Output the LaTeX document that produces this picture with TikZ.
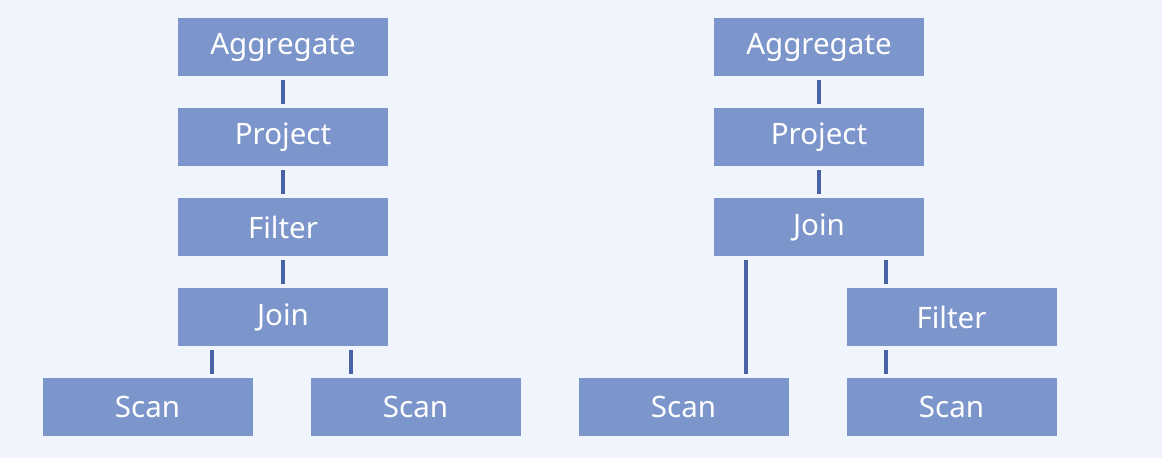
\documentclass[tikz,border=0pt]{standalone}
\usepackage{fontspec}
\setmainfont{Noto Sans}
\definecolor{opfill}{RGB}{124,149,203}
\definecolor{linkcol}{RGB}{72,98,168}
\definecolor{bgcol}{RGB}{240,244,252}
\tikzstyle{every node}=[fill=opfill,text=white,minimum width=210pt,minimum height=58pt,inner sep=0pt,font=\fontsize{29.5}{34}\selectfont]
\tikzstyle{link}=[draw=linkcol,line width=4pt,shorten >=4pt,shorten <=4pt]

\begin{document}
\begin{tikzpicture}[x=1pt,y=-1pt]
	  \fill[bgcol] (0,0) rectangle (1162,458);
	  \useasboundingbox (0,0) rectangle (1162,458);
	  % plan before pushdown
	  \node (aggL) at (283,47) {Aggregate};
	  \node (projL) at (283,137) {Project};
	  \node (filtL) at (283,227) {Filter};
	  \node (joinL) at (283,317) {Join};
	  \node (scanLa) at (147.5,407) {Scan};
	  \node (scanLb) at (415.5,407) {Scan};
	  \draw[link] (aggL) -- (projL);
	  \draw[link] (projL) -- (filtL);
	  \draw[link] (filtL) -- (joinL);
	  \draw[link] ([xshift=-71pt]joinL.south) -- ([xshift=-71pt]joinL.south |- scanLa.north);
	  \draw[link] ([xshift=68pt]joinL.south) -- ([xshift=68pt]joinL.south |- scanLb.north);
	  % plan after pushdown
	  \node (aggR) at (819,47) {Aggregate};
	  \node (projR) at (819,137) {Project};
	  \node (joinR) at (819,227) {Join};
	  \node (filtR) at (951.5,317) {Filter};
	  \node (scanRa) at (683.5,407) {Scan};
	  \node (scanRb) at (951.5,407) {Scan};
	  \draw[link] (aggR) -- (projR);
	  \draw[link] (projR) -- (joinR);
	  \draw[link] ([xshift=-73pt]joinR.south) -- ([xshift=-73pt]joinR.south |- scanRa.north);
	  \draw[link] ([xshift=67pt]joinR.south) -- ([xshift=67pt]joinR.south |- filtR.north);
	  \draw[link] ([xshift=-66pt]filtR.south) -- ([xshift=-66pt]filtR.south |- scanRb.north);
	\end{tikzpicture}
\end{document}
